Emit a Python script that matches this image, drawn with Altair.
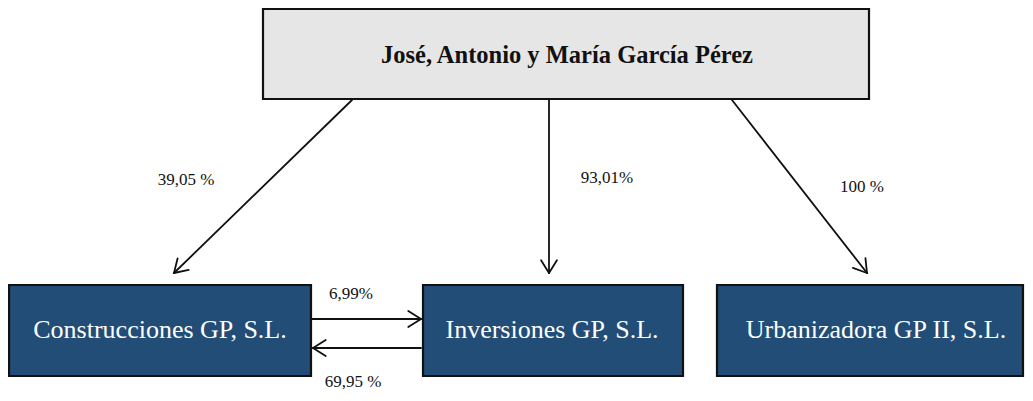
import math
import altair as alt
import pandas as pd

# ---- content ----
owner = "José, Antonio y María García Pérez"
companies = ["Construcciones GP, S.L.", "Inversiones GP, S.L.", "Urbanizadora GP II, S.L."]
edge_labels = ["39,05 %", "93,01%", "100 %", "6,99%", "69,95 %"]

# ---- layout (pixel space of the page, y downward) ----
top_box = (263, 869, 9, 99)
comp_boxes = [(9, 311, 285, 376), (423, 683, 285, 376), (717, 1023, 285, 376)]
edges = [  # start x, start y, tip x, tip y
    (352, 100, 174, 273),
    (549, 100, 549, 273),
    (732, 100, 867, 273),
    (311, 319, 421, 319),
    (421, 348, 313, 348),
]
label_pos = [(186, 180), (607, 178), (862, 187), (351, 294), (353, 382)]

FONT = "Liberation Serif"

boxes = pd.DataFrame(
    [dict(x=top_box[0], x2=top_box[1], y=top_box[2], y2=top_box[3], fill="#e6e6e6")]
    + [dict(x=b[0], x2=b[1], y=b[2], y2=b[3], fill="#214d76") for b in comp_boxes]
)

box_text = pd.DataFrame(
    [dict(x=(top_box[0] + top_box[1]) / 2 + 1, y=56, t=owner)]
    + [dict(x=x, y=330, t=n) for x, n in zip([160, 552, 876], companies)]
)

segs = []
L, th = 15, math.radians(32)
for (sx, sy, tx, ty) in edges:
    segs.append(dict(x=sx, y=sy, x2=tx, y2=ty))
    dx, dy = sx - tx, sy - ty
    n = math.hypot(dx, dy)
    ux, uy = dx / n, dy / n
    for s in (th, -th):
        rx = ux * math.cos(s) - uy * math.sin(s)
        ry = ux * math.sin(s) + uy * math.cos(s)
        segs.append(dict(x=tx, y=ty, x2=tx + L * rx, y2=ty + L * ry))
segs = pd.DataFrame(segs)

labels = pd.DataFrame([dict(x=p[0], y=p[1], t=t) for p, t in zip(label_pos, edge_labels)])

xs = alt.Scale(domain=[8, 1025], nice=False, zero=False)
ys = alt.Scale(domain=[8, 393], nice=False, zero=False, reverse=True)

rects = alt.Chart(boxes).mark_rect(stroke="#111111", strokeWidth=2.2).encode(
    x=alt.X("x:Q", scale=xs, axis=None), x2="x2:Q",
    y=alt.Y("y:Q", scale=ys, axis=None), y2="y2:Q",
    fill=alt.Fill("fill:N", scale=None),
)

lines = alt.Chart(segs).mark_rule(color="#111111", strokeWidth=1.8, strokeCap="round").encode(
    x=alt.X("x:Q", scale=xs, axis=None), x2="x2:Q",
    y=alt.Y("y:Q", scale=ys, axis=None), y2="y2:Q",
)

owner_text = alt.Chart(box_text.iloc[[0]]).mark_text(
    font=FONT, fontSize=24.5, fontWeight="bold", baseline="middle", align="center", color="#111111"
).encode(x=alt.X("x:Q", scale=xs, axis=None), y=alt.Y("y:Q", scale=ys, axis=None), text="t:N")

comp_text = alt.Chart(box_text.iloc[1:]).mark_text(
    font=FONT, fontSize=26, baseline="middle", align="center", color="#ffffff"
).encode(x=alt.X("x:Q", scale=xs, axis=None), y=alt.Y("y:Q", scale=ys, axis=None), text="t:N")

lab_text = alt.Chart(labels).mark_text(
    font=FONT, fontSize=17, baseline="middle", align="center", color="#111111"
).encode(x=alt.X("x:Q", scale=xs, axis=None), y=alt.Y("y:Q", scale=ys, axis=None), text="t:N")

chart = alt.layer(lines, rects, owner_text, comp_text, lab_text).properties(
    width=1017, height=385, padding=0, autosize="none", background="#ffffff"
).configure_view(stroke=None)

chart.save("out.html", embed_options={"renderer": "svg", "actions": False})
